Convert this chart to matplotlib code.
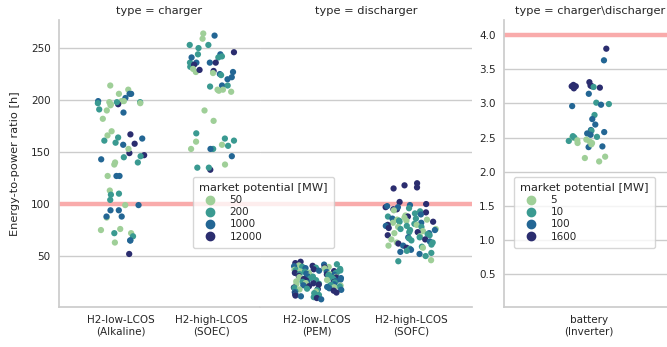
import matplotlib
matplotlib.use("Agg")
import matplotlib.pyplot as plt
import numpy as np
import pandas as pd
import seaborn as sns
from matplotlib.lines import Line2D

# --- data ------------------------------------------------------------------
alkaline_ratio = [188, 206, 196, 199, 198, 197, 182, 190, 191, 196, 199, 206, 210, 214,
                  206, 202, 197, 199, 198, 198, 195, 167, 164, 161, 157, 158, 170, 166,
                  159, 163, 147, 149, 146, 140, 140, 143, 153, 145, 138, 127, 127, 127,
                  113, 109, 110, 99, 99, 94, 104, 94, 87, 88, 88, 75, 76, 72, 72, 69,
                  65, 65, 63, 52]
alkaline_mp = [1000, 1000, 50, 50, 200, 50, 50, 50, 200, 12000, 1000, 50, 50, 50,
               1000, 1000, 200, 50, 50, 200, 50, 12000, 200, 200, 1000, 12000, 50, 50,
               200, 1000, 12000, 12000, 200, 200, 50, 1000, 50, 200, 50, 50, 1000, 1000,
               50, 200, 200, 1000, 50, 1000, 200, 1000, 50, 1000, 1000, 50, 50, 200, 50, 200,
               1000, 1000, 50, 12000]

soec_ratio = [264, 262, 259, 253, 253, 250, 246, 244, 244, 241, 242, 236, 236, 236,
              232, 236, 234, 241, 230, 228, 227, 227, 225, 226, 224, 229, 222, 220,
              214, 213, 214, 210, 209, 208, 210, 190, 180, 168, 160, 157, 163, 161,
              156, 153, 153, 153, 146, 138, 133, 135, 135]
soec_mp = [50, 1000, 50, 200, 200, 200, 12000, 200, 1000, 200, 200, 1000, 12000, 200,
           200, 1000, 12000, 1000, 50, 12000, 50, 1000, 1000, 50, 200, 12000, 1000, 1000,
           1000, 200, 200, 50, 50, 50, 50, 50, 50, 200, 50, 50, 200, 200,
           200, 200, 50, 1000, 1000, 50, 12000, 200, 200]

pem_ratio = [44.5, 43.2, 42.1, 41.8, 41.0, 40.6, 40.2, 39.7, 39.5, 39.1, 38.8, 38.4,
             38.0, 37.6, 37.3, 37.0, 36.8, 36.4, 36.1, 35.9, 35.5, 35.2, 34.9, 34.7,
             34.3, 34.0, 33.8, 33.5, 33.1, 32.9, 32.6, 32.3, 32.0, 31.8, 31.4, 31.1,
             30.9, 30.6, 30.2, 30.0, 29.7, 29.4, 29.1, 28.8, 28.6, 28.2, 27.9, 27.7,
             27.3, 27.0, 26.8, 26.5, 26.1, 25.9, 25.6, 25.2, 24.9, 24.7, 24.3, 24.0,
             23.8, 23.4, 23.1, 22.8, 22.6, 22.2, 21.9, 21.6, 21.3, 21.0, 20.7, 20.3,
             20.0, 19.7, 19.4, 19.0, 18.6, 18.3, 17.9, 17.5, 17.1, 16.7, 16.2, 15.8,
             15.3, 14.9, 14.3, 13.8, 13.2, 12.6, 12.0, 11.3, 10.5, 9.6, 8.4]
pem_mp = [12000, 12000, 200, 1000, 50, 12000, 1000, 200, 50, 12000, 200, 1000,
          50, 200, 12000, 1000, 50, 200, 200, 1000, 12000, 50, 200, 1000,
          200, 50, 12000, 200, 1000, 50, 200, 12000, 1000, 200, 50, 200,
          12000, 1000, 200, 50, 50, 12000, 200, 1000, 200, 50, 12000, 200,
          1000, 50, 200, 12000, 200, 1000, 50, 200, 12000, 200, 1000, 50,
          12000, 200, 50, 1000, 12000, 200, 1000, 50, 200, 12000, 200, 1000,
          50, 12000, 200, 1000, 200, 12000, 50, 1000, 200, 12000, 200, 50,
          1000, 12000, 200, 12000, 1000, 200, 12000, 1000, 200, 12000, 1000]

sofc_ratio = [120, 118, 116, 115, 102, 100, 95, 95, 97, 99, 97, 98, 96, 94, 93, 92,
              91, 90, 89, 88, 88, 87, 86, 86, 85, 85, 84, 84, 83, 83, 82, 82, 81, 80,
              80, 79, 79, 78, 78, 77, 76, 76, 75, 75, 74, 73, 73, 72, 72, 71, 70, 70,
              69, 68, 68, 67, 66, 66, 65, 64, 63, 63, 62, 61, 60, 60, 59, 58, 58, 57,
              56, 55, 54, 53, 52, 50, 46, 45]
sofc_mp = [12000, 12000, 12000, 12000, 12000, 12000, 12000, 12000, 1000, 1000, 12000,
           1000, 200, 50, 200, 12000, 200, 1000, 50, 200, 12000, 50, 200, 1000, 50, 50,
           200, 50, 12000, 200, 50, 1000, 200, 50, 12000, 200, 1000, 50, 200, 12000, 200,
           50, 1000, 200, 50, 12000, 200, 1000, 50, 200, 12000, 200, 50, 1000, 200, 200,
           12000, 50, 200, 1000, 200, 50, 12000, 200, 1000, 50, 200, 12000, 50, 200,
           1000, 200, 1000, 200, 1000, 200, 50, 200]

battery_ratio = [3.80, 3.63, 3.31, 3.25, 3.27, 3.23, 3.25, 3.26, 3.22, 3.25, 3.24, 3.14,
                 3.01, 2.98, 2.99, 2.96, 2.83, 2.77, 2.69, 2.61, 2.60, 2.58, 2.56, 2.54,
                 2.51, 2.50, 2.47, 2.52, 2.50, 2.45, 2.46, 2.42, 2.44, 2.42, 2.37, 2.36,
                 2.22, 2.20, 2.15, 2.40]
battery_mp = [1600, 100, 1600, 1600, 1600, 1600, 1600, 1600, 1600, 1600, 10, 100,
              10, 100, 10, 100, 10, 100, 100, 100, 10, 100, 100, 100,
              10, 5, 5, 10, 10, 10, 5, 5, 5, 5, 100, 100,
              5, 5, 5, 5]

charger_techs = ["H2-low-LCOS\n(Alkaline)", "H2-high-LCOS\n(SOEC)"]
discharger_techs = ["H2-low-LCOS\n(PEM)", "H2-high-LCOS\n(SOFC)"]
battery_techs = ["battery\n(Inverter)"]
h2_levels = ["50", "200", "1000", "12000"]
battery_levels = ["5", "10", "100", "1600"]


def make_frame(groups):
    rows = []
    for tech, ratios, mps in groups:
        for r, m in zip(ratios, mps):
            rows.append({"tech": tech, "ratio": r, "mp": str(m)})
    return pd.DataFrame(rows)


charger = make_frame([(charger_techs[0], alkaline_ratio, alkaline_mp),
                      (charger_techs[1], soec_ratio, soec_mp)])
discharger = make_frame([(discharger_techs[0], pem_ratio, pem_mp),
                         (discharger_techs[1], sofc_ratio, sofc_mp)])
battery = make_frame([(battery_techs[0], battery_ratio, battery_mp)])

# --- style --------------------------------------------------------------------
sns.set_theme(style="whitegrid")
plt.rcParams["font.family"] = ["DejaVu Sans"]
plt.rcParams["xtick.labelsize"] = 7.5
plt.rcParams["ytick.labelsize"] = 7.5
text_col = "0.15"
pal = ["#9fcf98", "#3a9a91", "#236694", "#2b2d6f"]
limit_col = "#f9abab"

W, H = 667, 347
fig = plt.figure(figsize=(W / 100, H / 100), dpi=100)


def px_axes(left, right, top=20, bottom=307, **kw):
    return fig.add_axes([left / W, (H - bottom) / H, (right - left) / W, (bottom - top) / H], **kw)


ax1 = px_axes(59, 260)
ax2 = px_axes(260, 472, sharey=ax1)
ax3 = px_axes(504, 676)

panels = [
    (ax1, charger, charger_techs, h2_levels, 100, 0.27, (-0.689, 1.544), "type = charger"),
    (ax2, discharger, discharger_techs, h2_levels, 100, 0.27, (-0.606, 1.649), "type = discharger"),
    (ax3, battery, battery_techs, battery_levels, 4.0, 0.12, (-0.5, 0.51), "type = charger\\discharger"),
]

np.random.seed(3)
for ax, df, techs, levels, limit, jit, xlim, title in panels:
    ax.axhline(limit, color=limit_col, lw=3.2, zorder=0.9)
    sns.stripplot(data=df, x="tech", y="ratio", hue="mp", order=techs, hue_order=levels,
                  palette=pal, jitter=jit, size=4.5, linewidth=0, ax=ax, legend=False,
                  zorder=1)
    ax.set_xlim(*xlim)
    ax.set_xlabel("")
    ax.set_ylabel("")
    ax.set_title(title, fontsize=8.2, color=text_col, pad=4)
    ax.xaxis.grid(False)
    ax.tick_params(axis="both", colors=text_col, pad=6, length=0)
    for side in ["top", "right"]:
        ax.spines[side].set_visible(False)

ax1.set_ylim(1, 277)
ax1.set_yticks([50, 100, 150, 200, 250])
ax1.set_ylabel("Energy-to-power ratio [h]", fontsize=8.2, color=text_col, labelpad=8)
ax2.spines["left"].set_visible(False)
ax2.tick_params(axis="y", labelleft=False)
ax3.set_ylim(0.02, 4.22)
ax3.set_yticks([0.5, 1.0, 1.5, 2.0, 2.5, 3.0, 3.5, 4.0])


def add_legend(levels, x, y):
    handles = [Line2D([], [], ls="", marker="o", ms=6, color=c) for c in pal]
    leg = fig.legend(handles, levels, title="market potential [MW]", loc="upper left",
                     bbox_to_anchor=(x / W, 1 - y / H), borderaxespad=0, fontsize=7.5,
                     title_fontsize=8.2, labelspacing=0.2, handletextpad=0.9,
                     handlelength=2.0, borderpad=0.6, frameon=True, framealpha=0.8,
                     edgecolor="0.8")
    leg._legend_box.align = "left"
    for t in leg.get_texts():
        t.set_color(text_col)
    leg.get_title().set_color(text_col)
    return leg


add_legend(h2_levels, 193, 177)
add_legend(battery_levels, 514, 177)

fig.savefig("out.png", dpi=100)
